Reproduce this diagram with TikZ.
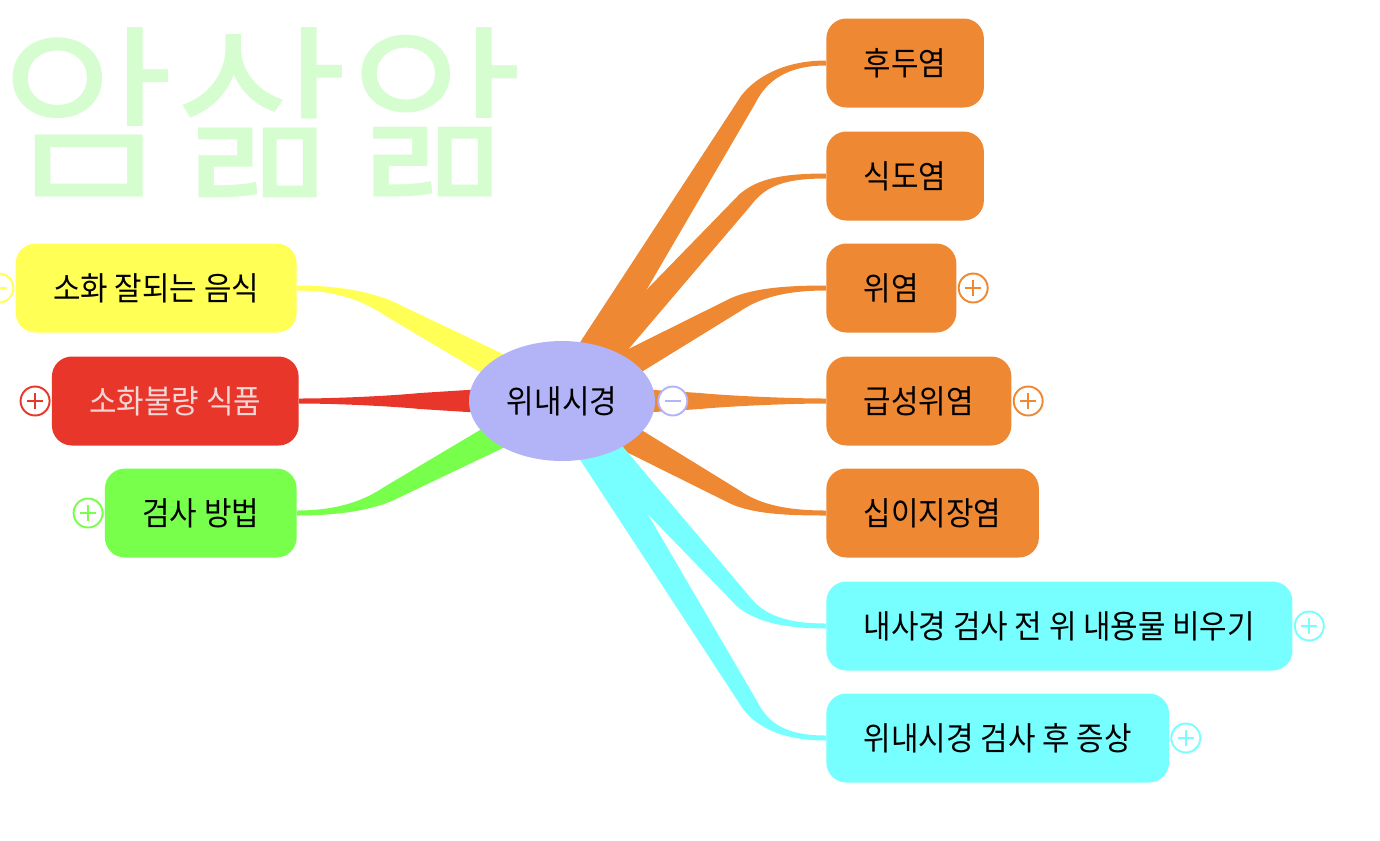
\documentclass[tikz,border=0pt]{standalone}
\usepackage{fontspec}
\newfontfamily\kr{Noto Sans CJK KR}[FakeStretch=0.92]
\newfontfamily\krwide{Noto Sans CJK KR}
\usetikzlibrary{positioning,calc,backgrounds,shapes.geometric}
\definecolor{mmorange}{HTML}{EE8833}
\definecolor{mmyellow}{HTML}{FFFF55}
\definecolor{mmred}{HTML}{E8362A}
\definecolor{mmgreen}{HTML}{77FF4B}
\definecolor{mmcyan}{HTML}{77FFFF}
\definecolor{mmlilac}{HTML}{B3B3F7}
\definecolor{mmmark}{HTML}{D5FDD0}
\definecolor{mmpink}{HTML}{F2D6D6}
\tikzset{
  topic/.style={rounded corners=0.4cm, minimum height=1.78cm, inner xsep=0.75cm, font=\kr\fontsize{18.5}{22}\selectfont},
  fold/.style={circle, draw=#1, fill=white, line width=1.1pt, minimum size=0.58cm, inner sep=0pt},
  plusmark/.style={fold=#1, path picture={\draw [#1, line width=1.1pt] ([xshift=-0.16cm]path picture bounding box.center) -- ([xshift=0.16cm]path picture bounding box.center) ([yshift=-0.16cm]path picture bounding box.center) -- ([yshift=0.16cm]path picture bounding box.center);}},
  minusmark/.style={fold=#1, path picture={\draw [#1, line width=1.1pt] ([xshift=-0.16cm]path picture bounding box.center) -- ([xshift=0.16cm]path picture bounding box.center);}}
}
\newcommand{\branch}[4]{%
  \coordinate (bq) at ($(#2)!-0.5cm!(endo)$);
  \coordinate (eq) at ($(#3.#4)!-0.8cm!(#3.center)$);
  \fill [#1] ($(endo)!0.34cm!90:(#2)$) -- ($(#2)!0.16cm!-90:(endo)$)
    .. controls ($(bq)!0.11cm!-90:(#2)$) and ($(eq)!0.05cm!90:(#3.#4)$) .. ($(#3.#4)!0.05cm!90:(#3.center)$)
    -- ($(#3.#4)!0.05cm!-90:(#3.center)$)
    .. controls ($(eq)!0.05cm!-90:(#3.#4)$) and ($(bq)!0.11cm!90:(#2)$) .. ($(#2)!0.16cm!90:(endo)$)
    -- ($(endo)!0.34cm!-90:(#2)$) -- cycle;
}
\begin{document}
\begin{tikzpicture}[x=0.02cm, y=-0.02cm]
\useasboundingbox (0,0) rectangle (1380,840);
\node [text=mmmark, font=\krwide\fontsize{108}{120}\selectfont] (watermark) at (262,113) {암삶앎};
\node [ellipse, fill=mmlilac, minimum width=3.72cm, minimum height=2.4cm, inner sep=0pt, font=\kr\fontsize{18.5}{22}\selectfont] (endo) at (562,401) {위내시경};
\node [topic, fill=mmorange, anchor=west] (hudu) at (826,63) {후두염};
\node [topic, fill=mmorange, anchor=west] (sikdo) at (826,176) {식도염};
\node [topic, fill=mmorange, anchor=west] (wiyeom) at (826,288) {위염};
\node [topic, fill=mmorange, anchor=west] (geupseong) at (826,401) {급성위염};
\node [topic, fill=mmorange, anchor=west] (sibiji) at (826,513) {십이지장염};
\node [topic, fill=mmcyan, anchor=west] (biugi) at (826,626) {내사경 검사 전 위 내용물 비우기};
\node [topic, fill=mmcyan, anchor=west] (jeungsang) at (826,738) {위내시경 검사 후 증상};
\node [topic, fill=mmyellow, anchor=east] (eumsik) at (297,288) {소화 잘되는 음식};
\node [topic, fill=mmred, text=mmpink, anchor=east] (sikpum) at (299,401) {소화불량 식품};
\node [topic, fill=mmgreen, anchor=east] (bangbeop) at (297,513) {검사 방법};
\node [minusmark=mmlilac, right=0.04cm of endo] (endofold) {};
\node [plusmark=mmorange, right=0.02cm of wiyeom] (wiyeomfold) {};
\node [plusmark=mmorange, right=0.02cm of geupseong] (geupseongfold) {};
\node [plusmark=mmcyan, right=0.02cm of biugi] (biugifold) {};
\node [plusmark=mmcyan, right=0.02cm of jeungsang] (jeungsangfold) {};
\node [plusmark=mmyellow, left=0.02cm of eumsik] (eumsikfold) {};
\node [plusmark=mmred, left=0.02cm of sikpum] (sikpumfold) {};
\node [plusmark=mmgreen, left=0.02cm of bangbeop] (bangbeopfold) {};
\begin{scope}[on background layer]
\branch{mmorange}{748,100}{hudu}{west}
\branch{mmorange}{745,200}{sikdo}{west}
\branch{mmorange}{735,305}{wiyeom}{west}
\branch{mmorange}{700,401}{geupseong}{west}
\branch{mmorange}{735,497}{sibiji}{west}
\branch{mmcyan}{742,600}{biugi}{west}
\branch{mmcyan}{750,705}{jeungsang}{west}
\branch{mmyellow}{388,308}{eumsik}{east}
\branch{mmred}{420,401}{sikpum}{east}
\branch{mmgreen}{388,494}{bangbeop}{east}
\end{scope}
\end{tikzpicture}
\end{document}
